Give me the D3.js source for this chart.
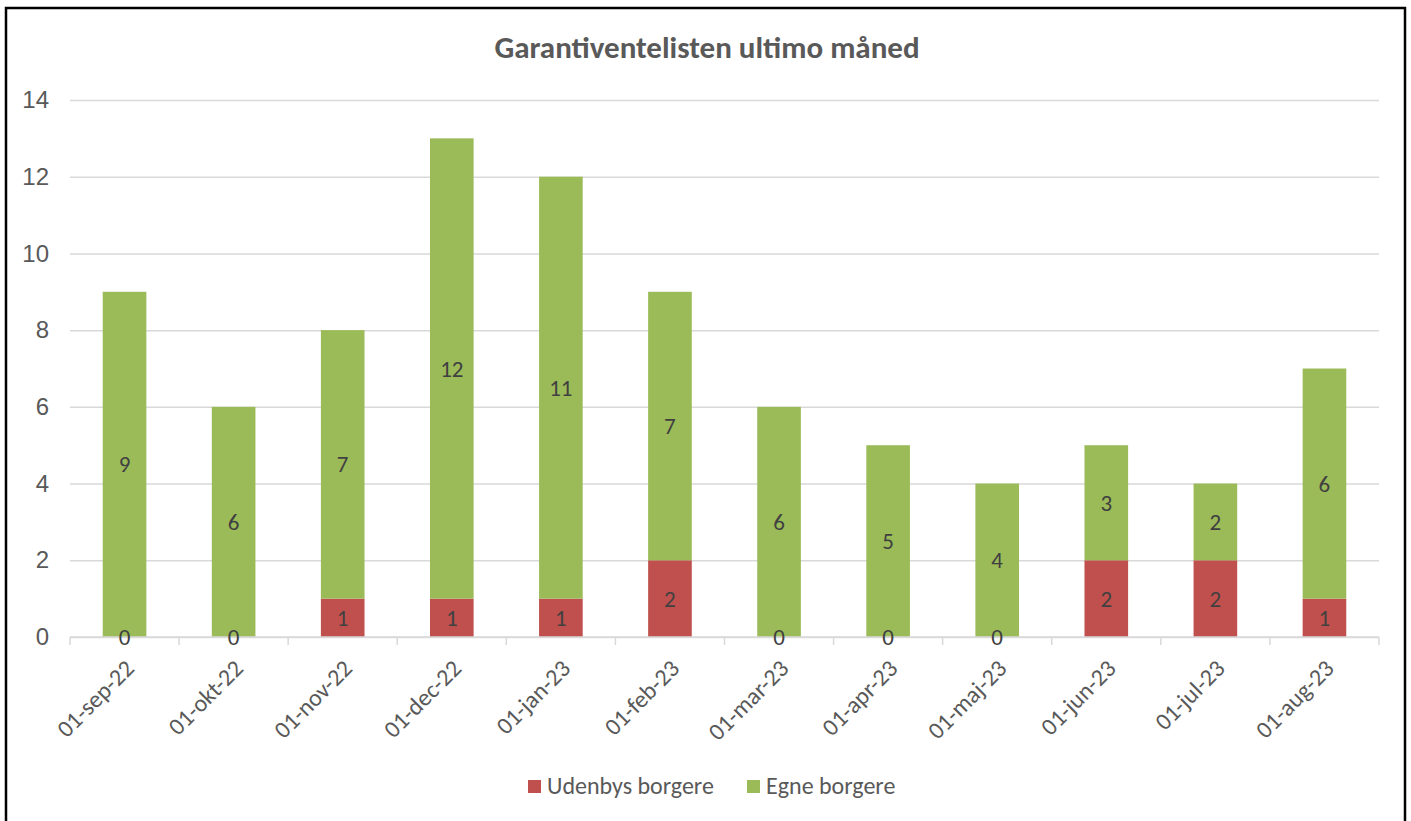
<!DOCTYPE html>
<html>
<head>
<meta charset="utf-8">
<script src="https://cdn.jsdelivr.net/npm/d3@7"></script>
<style>
  body { margin: 0; background: #fff; }
  svg { font-family: Calibri, Carlito, Lato, sans-serif; }
</style>
</head>
<body>
<svg width="1411" height="821"></svg>
<script>
// data
const months = ['01-sep-22', '01-okt-22', '01-nov-22', '01-dec-22', '01-jan-23', '01-feb-23',
  '01-mar-23', '01-apr-23', '01-maj-23', '01-jun-23', '01-jul-23', '01-aug-23'];
const udenbys = [0, 0, 1, 1, 1, 2, 0, 0, 0, 2, 2, 1];
const egne = [9, 6, 7, 12, 11, 7, 6, 5, 4, 3, 2, 6];
const yTicks = [0, 2, 4, 6, 8, 10, 12, 14];

const seriesNames = ['Udenbys borgere', 'Egne borgere'];
const colors = ['#c0504d', '#9bbb59'];

const svg = d3.select('svg');
const width = +svg.attr('width');
const height = +svg.attr('height');

// outer frame (bottom edge runs past the picture)
svg.append('path')
  .attr('d', `M6,${height} V8 H1405 V${height}`)
  .attr('fill', 'none')
  .attr('stroke', '#000')
  .attr('stroke-width', 2.5);

const margin = {top: 100, right: 32, bottom: 184, left: 70};
const innerWidth = width - margin.left - margin.right;
const innerHeight = height - margin.top - margin.bottom;

const table = months.map((m, i) => ({month: m, udenbys: udenbys[i], egne: egne[i]}));
const stacked = d3.stack().keys(['udenbys', 'egne'])(table);

const xScale = d3.scaleBand()
  .domain(months)
  .range([0, innerWidth])
  .paddingInner(0.6)
  .paddingOuter(0.3);

const yScale = d3.scaleLinear()
  .domain([0, 14])
  .range([innerHeight, 0]);

const g = svg.append('g')
  .attr('transform', `translate(${margin.left}, ${margin.top})`);

// gridlines + y labels
const yAxis = d3.axisLeft(yScale)
  .tickValues(yTicks)
  .tickSize(-innerWidth);
const yAxisGroup = g.append('g').call(yAxis);
yAxisGroup.select('.domain').remove();
yAxisGroup.selectAll('line').attr('stroke', '#d9d9d9').attr('stroke-width', 1.5);
yAxisGroup.selectAll('text')
  .attr('fill', '#595959')
  .style('font-size', '24px')
  .attr('text-anchor', 'end')
  .attr('x', -21);

// bars
const layer = g.selectAll('.layer').data(stacked)
  .enter().append('g')
    .attr('class', 'layer')
    .attr('fill', (d, i) => colors[i]);

layer.selectAll('rect').data(d => d)
  .enter().append('rect')
    .attr('x', d => xScale(d.data.month))
    .attr('y', d => yScale(d[1]))
    .attr('width', xScale.bandwidth())
    .attr('height', d => yScale(d[0]) - yScale(d[1]));

// x axis with ticks between categories
const band = innerWidth / months.length;
const xAxisGroup = g.append('g')
  .attr('transform', `translate(0, ${innerHeight})`);
xAxisGroup.append('line')
  .attr('x1', 0).attr('x2', innerWidth)
  .attr('stroke', '#d9d9d9').attr('stroke-width', 1.5);
xAxisGroup.selectAll('.tick-mark').data(d3.range(months.length + 1))
  .enter().append('line')
    .attr('class', 'tick-mark')
    .attr('x1', i => i * band).attr('x2', i => i * band)
    .attr('y1', 0).attr('y2', 8)
    .attr('stroke', '#d9d9d9').attr('stroke-width', 1.5);
xAxisGroup.selectAll('.x-label').data(months)
  .enter().append('text')
    .attr('class', 'x-label')
    .attr('transform', d => `translate(${xScale(d) + xScale.bandwidth() / 2 + 5}, 27) rotate(-45)`)
    .attr('text-anchor', 'end')
    .attr('dy', '0.35em')
    .attr('fill', '#595959')
    .style('font-size', '24px')
    .text(d => d);

// data labels, drawn on top of all bars
const labels = g.append('g');
stacked.forEach(s => {
  labels.selectAll(null).data(s)
    .enter().append('text')
      .attr('x', d => xScale(d.data.month) + xScale.bandwidth() / 2)
      .attr('y', d => (yScale(d[0]) + yScale(d[1])) / 2)
      .attr('dy', '0.35em')
      .attr('text-anchor', 'middle')
      .attr('fill', '#404040')
      .style('font-size', '23px')
      .text(d => d[1] - d[0]);
});

// title
svg.append('text')
  .attr('x', 707)
  .attr('y', 58)
  .attr('text-anchor', 'middle')
  .attr('fill', '#595959')
  .style('font-size', '31px')
  .style('font-weight', 'bold')
  .text('Garantiventelisten ultimo måned');

// legend
const legendX = [528, 747];
const legend = svg.selectAll('.legend').data(seriesNames)
  .enter().append('g')
    .attr('class', 'legend')
    .attr('transform', (d, i) => `translate(${legendX[i]}, 786)`);
legend.append('rect')
  .attr('x', 0).attr('y', -6)
  .attr('width', 13).attr('height', 13)
  .attr('fill', (d, i) => colors[i]);
legend.append('text')
  .attr('x', 19)
  .attr('dy', '0.35em')
  .attr('fill', '#595959')
  .style('font-size', '24px')
  .text(d => d);
</script>
</body>
</html>
